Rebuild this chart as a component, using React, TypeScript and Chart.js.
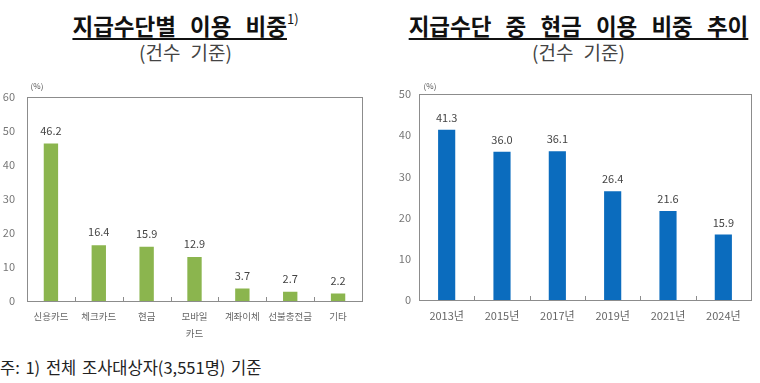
import React, { useEffect, useRef } from "react";
import { Chart, registerables } from "chart.js";

Chart.register(...registerables);

const leftCategories: (string | string[])[] = ["신용카드", "체크카드", "현금", ["모바일", "카드"], "계좌이체", "선불충전금", "기타"];
const leftValues = [46.2, 16.4, 15.9, 12.9, 3.7, 2.7, 2.2];
const leftTicks = [0, 10, 20, 30, 40, 50, 60];

const rightCategories = ["2013년", "2015년", "2017년", "2019년", "2021년", "2024년"];
const rightValues = [41.3, 36.0, 36.1, 26.4, 21.6, 15.9];
const rightTicks = [0, 10, 20, 30, 40, 50];

const FONT = "'Noto Sans CJK KR', 'Noto Sans', sans-serif";

const framePlugin = {
  id: "frameAndLabels",
  afterDatasetsDraw(chart: any, _args: any, opts: any) {
    const { ctx, chartArea } = chart;
    const x = chart.scales.x;
    ctx.save();
    ctx.strokeStyle = "#8c8c8c";
    ctx.lineWidth = 1;
    ctx.strokeRect(Math.round(chartArea.left) + 0.5, Math.round(chartArea.top) + 0.5,
      Math.round(chartArea.right - chartArea.left), Math.round(chartArea.bottom - chartArea.top));
    const n = chart.data.labels.length;
    ctx.beginPath();
    for (let i = 1; i < n; i++) {
      const px = Math.round((x.getPixelForValue(i - 1) + x.getPixelForValue(i)) / 2) + 0.5;
      ctx.moveTo(px, chartArea.bottom);
      ctx.lineTo(px, chartArea.bottom - 4);
    }
    ctx.stroke();
    const meta = chart.getDatasetMeta(0);
    ctx.fillStyle = "#444";
    ctx.font = `${opts.valueSize}px ${FONT}`;
    ctx.textAlign = "center";
    ctx.textBaseline = "middle";
    meta.data.forEach((bar: any, i: number) => {
      const v = chart.data.datasets[0].data[i];
      ctx.fillText(v.toFixed(1), bar.x, bar.y - opts.valueGap);
    });
    ctx.fillStyle = "#555";
    ctx.font = `8px ${FONT}`;
    ctx.fillText("(%)", chartArea.left + opts.unitDx, chartArea.top - opts.unitDy);
    ctx.restore();
  },
};

function SizedChart({ width, props }: { width: number; props: any }) {
  const ref = useRef<HTMLCanvasElement>(null);
  useEffect(() => {
    const p = props;
    const chart = new Chart(ref.current!, {
      type: "bar",
      data: {
        labels: p.labels,
        datasets: [{ data: p.values, backgroundColor: p.color, barPercentage: p.barPct, categoryPercentage: 1 }],
      },
      options: {
        animation: false,
        responsive: false,
        maintainAspectRatio: false,
        layout: { padding: { top: p.padTop, right: p.padRight, left: 0, bottom: 0 } },
        plugins: {
          legend: { display: false },
          tooltip: { enabled: false },
          frameAndLabels: { valueSize: 11, valueGap: p.valueGap, unitDx: p.unitDx, unitDy: p.unitDy },
        } as any,
        scales: {
          x: {
            grid: { display: false, drawTicks: false },
            border: { display: false },
            ticks: {
              padding: p.xPad, color: "#666",
              font: { family: FONT, size: p.xFont, lineHeight: p.lineHeight },
              maxRotation: 0, autoSkip: false,
            },
            afterFit: (s: any) => { s.height = p.xHeight; },
          },
          y: {
            min: 0, max: p.max,
            grid: { display: false, drawTicks: false },
            border: { display: false },
            afterBuildTicks: (s: any) => { s.ticks = p.ticks.map((v: number) => ({ value: v })); },
            ticks: { padding: p.yPad, color: "#777", font: { family: FONT, size: 11 } },
            afterFit: (s: any) => { s.width = p.yWidth; },
          },
        },
      },
      plugins: [framePlugin],
    });
    return () => chart.destroy();
  }, []);
  return <canvas ref={ref} width={width} height={262} style={{ display: "block" }} />;
}

export default function App() {
  const titleStyle: React.CSSProperties = {
    position: "absolute", top: 9, textAlign: "center", fontFamily: FONT,
    fontWeight: 700, fontSize: 22.5, color: "#111", wordSpacing: 9, lineHeight: "32px", whiteSpace: "nowrap",
  };
  const subStyle: React.CSSProperties = {
    position: "absolute", top: 38, textAlign: "center", fontFamily: FONT,
    fontSize: 19, color: "#444", lineHeight: "28px", wordSpacing: 6, whiteSpace: "nowrap",
  };
  const ul: React.CSSProperties = { textDecoration: "underline", textDecorationThickness: "1.5px", textUnderlineOffset: "3px" };
  return (
    <div style={{ position: "absolute", left: 0, top: 0, width: 760, height: 383, background: "#fff", overflow: "hidden" }}>
      <div style={{ ...titleStyle, left: 0, width: 371 }}>
        <span style={ul}>지급수단별 이용 비중</span>
        <span style={{ fontSize: 13, fontWeight: 400, verticalAlign: "top", position: "relative", top: -6, wordSpacing: 0 }}>1)</span>
      </div>
      <div style={{ ...subStyle, left: 0, width: 371 }}>(건수 기준)</div>
      <div style={{ ...titleStyle, left: 397, width: 363 }}>
        <span style={ul}>지급수단 중 현금 이용 비중 추이</span>
      </div>
      <div style={{ ...subStyle, left: 397, width: 363 }}>(건수 기준)</div>

      <div style={{ position: "absolute", left: 0, top: 78, width: 372, height: 262 }}>
        <SizedChart width={372} props={{
          labels: leftCategories, values: leftValues, ticks: leftTicks, color: "#8bb54e", max: 60,
          yWidth: 27, xHeight: 39, yPad: 12, xPad: 7, padTop: 18, padRight: 10,
          barPct: 0.3, xFont: 9.5, valueGap: 13, unitDx: 10, unitDy: 11, lineHeight: 1.75,
        }} />
      </div>
      <div style={{ position: "absolute", left: 380, top: 78, width: 380, height: 262 }}>
        <SizedChart width={380} props={{
          labels: rightCategories, values: rightValues, ticks: rightTicks, color: "#0b6cbe", max: 50,
          yWidth: 39, xHeight: 40, yPad: 8, xPad: 9, padTop: 16, padRight: 9,
          barPct: 0.31, xFont: 11, valueGap: 12, unitDx: 11, unitDy: 8, lineHeight: 1.2,
        }} />
      </div>

      <div style={{ position: "absolute", left: 0, top: 355, fontFamily: FONT, fontSize: 16.5, color: "#222", whiteSpace: "pre", wordSpacing: 2, lineHeight: "24px" }}>
        주: 1) 전체 조사대상자(3,551명) 기준
      </div>
    </div>
  );
}
